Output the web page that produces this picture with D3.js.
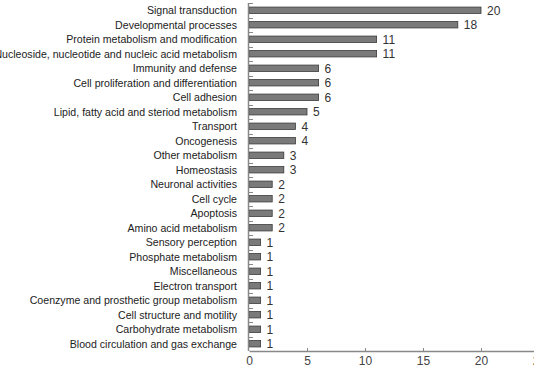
<!DOCTYPE html>
<html>
<head>
<meta charset="utf-8">
<script src="https://cdn.jsdelivr.net/npm/d3@7"></script>
<style>
  html, body { margin: 0; padding: 0; background: #fff; }
  svg { display: block; }
</style>
</head>
<body>
<div id="chart"></div>
<script>
// categories top to bottom
const categories = [
  'Signal transduction',
  'Developmental processes',
  'Protein metabolism and modification',
  'Nucleoside, nucleotide and nucleic acid metabolism',
  'Immunity and defense',
  'Cell proliferation and differentiation',
  'Cell adhesion',
  'Lipid, fatty acid and steriod metabolism',
  'Transport',
  'Oncogenesis',
  'Other metabolism',
  'Homeostasis',
  'Neuronal activities',
  'Cell cycle',
  'Apoptosis',
  'Amino acid metabolism',
  'Sensory perception',
  'Phosphate metabolism',
  'Miscellaneous',
  'Electron transport',
  'Coenzyme and prosthetic group metabolism',
  'Cell structure and motility',
  'Carbohydrate metabolism',
  'Blood circulation and gas exchange'
];
const counts = [20, 18, 11, 11, 6, 6, 6, 5, 4, 4, 3, 3, 2, 2, 2, 2, 1, 1, 1, 1, 1, 1, 1, 1];
const xTicks = [0, 5, 10, 15, 20, 25];

const width = 534, height = 371;
const margin = { top: 3, right: -5, bottom: 20, left: 249 };

const svg = d3.select('#chart')
  .append('svg')
  .attr('width', width)
  .attr('height', height)
  .style('font-family', '"Liberation Sans", Arial, sans-serif');

const x = d3.scaleLinear().domain([0, 25]).range([margin.left, 539]);
const y = d3.scaleBand()
  .domain(categories)
  .range([margin.top, height - margin.bottom])
  .paddingInner(0.56)
  .paddingOuter(0.28);

const axisColor = '#888';

// bars
svg.append('g')
  .selectAll('rect')
  .data(categories)
  .join('rect')
  .attr('x', x(0))
  .attr('y', (d) => y(d))
  .attr('width', (d, i) => x(counts[i]) - x(0))
  .attr('height', y.bandwidth())
  .attr('fill', '#7a7a7a')
  .attr('stroke', '#3a3a3a')
  .attr('stroke-width', 0.8);

// value labels
svg.append('g')
  .selectAll('text')
  .data(categories)
  .join('text')
  .attr('x', (d, i) => x(counts[i]) + 6)
  .attr('y', (d) => y(d) + y.bandwidth() / 2)
  .attr('dy', '0.36em')
  .style('font-size', '12px')
  .style('fill', '#333')
  .text((d, i) => counts[i]);

// category labels
svg.append('g')
  .selectAll('text')
  .data(categories)
  .join('text')
  .attr('x', 237)
  .attr('y', (d) => y(d) + y.bandwidth() / 2)
  .attr('dy', '0.36em')
  .attr('text-anchor', 'end')
  .style('font-size', '10.6px')
  .style('fill', '#222')
  .text((d) => d);

// y axis with ticks at band boundaries, pointing inward
const yBottom = height - margin.bottom;
const yAxis = svg.append('g');
yAxis.append('line')
  .attr('x1', x(0) - 0.5).attr('x2', x(0) - 0.5)
  .attr('y1', margin.top).attr('y2', yBottom)
  .attr('stroke', axisColor).attr('stroke-width', 1.5);
yAxis.selectAll('line.tick')
  .data(categories)
  .join('line')
  .attr('class', 'tick')
  .attr('x1', x(0)).attr('x2', x(0) + 4)
  .attr('y1', (d) => Math.round(y(d) - y.step() * y.paddingInner() / 2) + 0.5)
  .attr('y2', (d) => Math.round(y(d) - y.step() * y.paddingInner() / 2) + 0.5)
  .attr('stroke', axisColor);

// x axis
const xAxis = svg.append('g')
  .attr('transform', `translate(0,${yBottom})`)
  .call(d3.axisBottom(x).tickValues(xTicks).tickSize(0).tickPadding(5));
xAxis.select('.domain').attr('stroke', axisColor).attr('stroke-width', 1.5);
xAxis.selectAll('.tick text')
  .style('font-family', '"Liberation Sans", Arial, sans-serif')
  .style('font-size', '12px')
  .style('fill', '#444');
xAxis.selectAll('.tick')
  .filter((d) => d > 0)
  .append('line')
  .attr('y1', 0).attr('y2', -3)
  .attr('stroke', axisColor);
</script>
</body>
</html>
